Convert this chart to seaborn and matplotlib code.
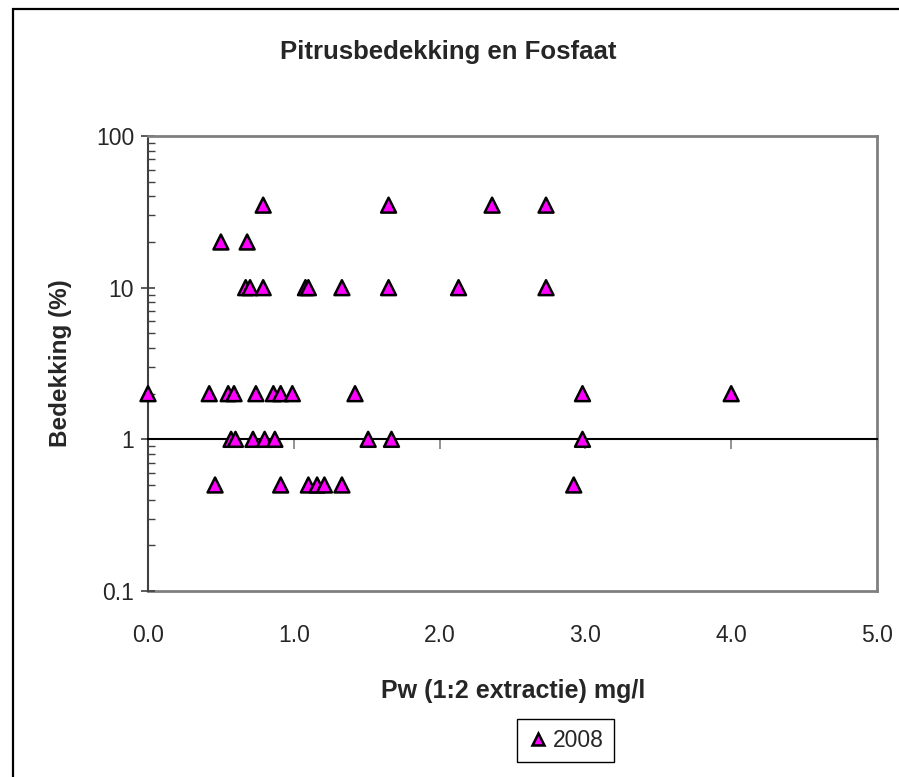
import matplotlib
matplotlib.use("Agg")
import matplotlib.pyplot as plt
import matplotlib.ticker as mticker
from matplotlib.patches import Rectangle
import seaborn as sns
import pandas as pd

# Phosphate (Pw) versus rush cover, 2008 survey
pw_mgl = [0.79, 1.65, 2.36, 2.73,
          0.50, 0.68,
          0.67, 0.70, 0.79, 1.08, 1.10, 1.33, 1.65, 2.13, 2.73,
          0.00, 0.42, 0.55, 0.59, 0.74, 0.86, 0.91, 0.99, 1.42, 2.98, 4.00,
          0.57, 0.60, 0.72, 0.80, 0.87, 1.51, 1.67, 2.98,
          0.46, 0.91, 1.10, 1.16, 1.21, 1.33, 2.92]
cover_pct = [35, 35, 35, 35,
             20, 20,
             10, 10, 10, 10, 10, 10, 10, 10, 10,
             2, 2, 2, 2, 2, 2, 2, 2, 2, 2, 2,
             1, 1, 1, 1, 1, 1, 1, 1,
             0.5, 0.5, 0.5, 0.5, 0.5, 0.5, 0.5]
series_name = "2008"
x_ticks = [0.0, 1.0, 2.0, 3.0, 4.0, 5.0]
y_ticks = [0.1, 1, 10, 100]

df = pd.DataFrame({"Pw": pw_mgl, "Bedekking": cover_pct, "Jaar": series_name})

sns.set_style("white")
plt.rcParams["font.family"] = ["Liberation Sans", "DejaVu Sans"]

fig = plt.figure(figsize=(8.99, 7.77), dpi=100)
ax = fig.add_axes([148 / 899, 1 - 591 / 777, (877 - 148) / 899, (591 - 136) / 777])

sns.scatterplot(data=df, x="Pw", y="Bedekking", hue="Jaar", palette=["#FF00FF"],
                marker="^", s=115, edgecolor="black", linewidth=1.8, ax=ax, zorder=5,
                clip_on=False)

ax.set_yscale("log")
ax.set_xlim(0, 5)
ax.set_ylim(0.1, 100)

# Y axis: decade labels, crossing major ticks, inside minor ticks
ax.yaxis.set_major_locator(mticker.FixedLocator(y_ticks))
ax.yaxis.set_major_formatter(mticker.FuncFormatter(lambda v, p: f"{v:g}"))
ax.yaxis.set_minor_locator(mticker.LogLocator(base=10, subs=range(2, 10)))
ax.yaxis.set_minor_formatter(mticker.NullFormatter())
ax.tick_params(axis="y", which="major", direction="inout", length=10, width=1.2,
               color="#404040", labelsize=16.5, pad=5, left=True)
ax.tick_params(axis="y", which="minor", direction="in", length=5, width=1.0,
               color="#404040", left=True)

# X axis line crosses at y = 1, ticks hang below it
ax.spines["bottom"].set_position(("data", 1))
ax.spines["bottom"].set_color("black")
ax.spines["bottom"].set_linewidth(1.5)
ax.xaxis.set_major_locator(mticker.FixedLocator(x_ticks))
ax.tick_params(axis="x", which="major", direction="out", length=7, width=1.2,
               color="#808080", labelbottom=False, bottom=True)
ax.xaxis.set_minor_locator(mticker.NullLocator())

# Frame of the plot area with the x labels on its lower edge
sec = ax.secondary_xaxis(0)
sec.xaxis.set_major_locator(mticker.FixedLocator(x_ticks))
sec.xaxis.set_major_formatter(mticker.FormatStrFormatter("%.1f"))
sec.tick_params(axis="x", length=0, labelsize=16.5, pad=24)
sec.spines["bottom"].set_color("#808080")
sec.spines["bottom"].set_linewidth(2)

ax.spines["left"].set_color("#404040")
ax.spines["left"].set_linewidth(1.5)
for side in ("top", "right"):
    ax.spines[side].set_visible(True)
    ax.spines[side].set_color("#808080")
    ax.spines[side].set_linewidth(2)

ax.set_xlabel("")
ax.set_ylabel("Bedekking (%)", fontsize=17.5, fontweight="bold", labelpad=17)
fig.text(513 / 899, 1 - 691 / 777, "Pw (1:2 extractie) mg/l", ha="center", va="center",
         fontsize=18, fontweight="bold")
fig.text(448 / 899, 1 - 52 / 777, "Pitrusbedekking en Fosfaat", ha="center", va="center",
         fontsize=18.5, fontweight="bold")

leg = ax.legend(loc="center", bbox_to_anchor=(565.5 / 899, 1 - 740.5 / 777),
                bbox_transform=fig.transFigure, fontsize=16.5, frameon=True,
                fancybox=False, edgecolor="black", framealpha=1,
                handletextpad=0.2, borderpad=0.45, handlelength=0.9, markerscale=0.75)
leg.get_frame().set_linewidth(1.0)

# Chart border
fig.patches.append(Rectangle((12.5 / 899, -0.5), 2.0, 0.5 + (1 - 8.5 / 777),
                             transform=fig.transFigure, fill=False,
                             edgecolor="black", linewidth=1.6))

fig.savefig("out.png", dpi=100)
